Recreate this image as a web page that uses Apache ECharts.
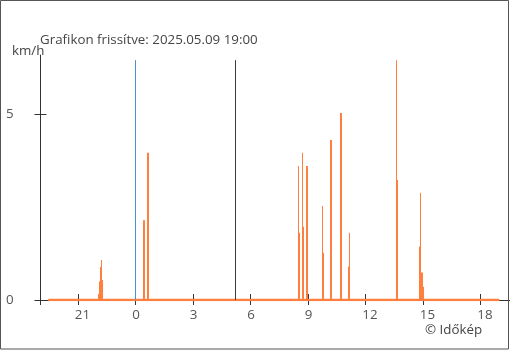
<!DOCTYPE html>
<html><head><meta charset="utf-8">
<script src="https://cdn.jsdelivr.net/npm/echarts@6/dist/echarts.min.js"></script>
<style>html,body{margin:0;padding:0;background:#fff}#c{width:510px;height:350px}</style>
</head><body><div id="c"></div>
<script>
// ---- data (hours relative to midnight of 2025.05.09) ----
const titleText = 'Grafikon frissítve: 2025.05.09 19:00';
const unitText = 'km/h';
const creditText = '© Időkép';
const xTickHours = [-3, 0, 3, 6, 9, 12, 15, 18];
const xTickLabels = ['21', '0', '3', '6', '9', '12', '15', '18'];
const yTickValues = [0, 5];
const xRange = [-4.956, 19.536];
const yRange = [0, 6.6];
const dataSpan = [-4.55, 18.98];
const midnightHour = 0;
const sunriseHour = 5.217;
const speedHours = [
  -1.930, -1.878, -1.826, -1.774, -1.721,
  0.417, 0.469, 0.626, 0.678,
  8.503, 8.555, 8.712, 8.764, 8.920, 8.972,
  9.755, 9.807, 10.172, 10.224, 10.694, 10.746,
  11.111, 11.163,
  13.615, 13.667,
  14.815, 14.867, 14.919, 14.971, 15.023
];
const speedValues = [
  0.16, 0.50, 0.89, 1.08, 0.54,
  2.15, 2.15, 3.97, 3.97,
  3.61, 1.81, 3.97, 1.97, 3.61, 3.61,
  2.53, 1.27, 4.31, 4.31, 5.04, 5.04,
  0.90, 1.81,
  6.46, 3.23,
  1.44, 2.89, 0.74, 0.74, 0.36
];

const FONT = '"Open Sans", "Noto Sans", sans-serif';
const FS = 13.33;
const ORANGE = '#ff7f3f';
const AXIS = '#333';
const TEXT = '#555';
const maxVal = Math.max(...speedValues);
const xTickValues = [xRange[0]].concat(xTickHours);
// labels are left-anchored ~3px before their tick (as in the original)
const PX_PER_HOUR = 19.17;
const labelShift = -3.2 / PX_PER_HOUR;
const xLabelValues = xTickHours.map(h => h + labelShift);

const chart = echarts.init(document.getElementById('c'), null, {renderer: 'canvas'});
const xBase = {
  type: 'value', min: xRange[0], max: xRange[1], position: 'bottom',
  splitLine: {show: false}
};
const yBase = {
  type: 'value', min: yRange[0], max: yRange[1], interval: 5, position: 'left',
  splitLine: {show: false}
};
chart.setOption({
  animation: false,
  backgroundColor: '#fff',
  textStyle: {fontFamily: FONT},
  grid: {left: 40.5, right: 0, top: 55, bottom: 50, containLabel: false},
  title: [
    {text: titleText, left: 40, top: 34, padding: 0,
     textStyle: {fontSize: FS, fontWeight: 'normal', color: '#444', fontFamily: FONT}},
    {text: unitText, left: 12, top: 45, padding: 0,
     textStyle: {fontSize: FS, fontWeight: 'normal', color: '#444', fontFamily: FONT}},
    {text: creditText, left: 425, top: 324, padding: 0,
     textStyle: {fontSize: FS, fontWeight: 'normal', color: '#444', fontFamily: FONT}}
  ],
  graphic: [{
    type: 'rect', silent: true, z: 100,
    shape: {x: 0.5, y: 0.5, width: 508, height: 348.5},
    style: {fill: 'none', stroke: '#555', lineWidth: 1}
  }],
  xAxis: [
    Object.assign({}, xBase, {
      axisLine: {show: true, onZero: false, lineStyle: {color: AXIS, width: 1}},
      axisTick: {show: true, inside: true, length: 6, customValues: xTickValues,
                 lineStyle: {color: AXIS}},
      axisLabel: {show: true, customValues: xLabelValues, margin: 9, fontSize: FS,
                  color: TEXT, fontFamily: FONT, align: 'left',
                  formatter: v => xTickLabels[xTickHours.indexOf(Math.round(v))]}
    }),
    Object.assign({}, xBase, {
      axisLine: {show: false, onZero: false},
      axisTick: {show: true, inside: false, length: 5, customValues: xTickValues,
                 lineStyle: {color: AXIS}},
      axisLabel: {show: false}
    })
  ],
  yAxis: [
    Object.assign({}, yBase, {
      axisLine: {show: true, onZero: false, lineStyle: {color: AXIS, width: 1}},
      axisTick: {show: true, inside: false, length: 6, customValues: yTickValues,
                 lineStyle: {color: AXIS}},
      axisLabel: {show: true, customValues: yTickValues, margin: 27, fontSize: FS,
                  color: TEXT, fontFamily: FONT}
    }),
    Object.assign({}, yBase, {
      axisLine: {show: false, onZero: false},
      axisTick: {show: true, inside: true, length: 6, customValues: yTickValues,
                 lineStyle: {color: AXIS}},
      axisLabel: {show: false}
    })
  ],
  series: [
    {
      type: 'line', xAxisIndex: 0, yAxisIndex: 0, z: 2,
      data: [[dataSpan[0], 0], [dataSpan[1], 0]],
      symbol: 'none', lineStyle: {color: ORANGE, width: 2.5}, silent: true,
      markLine: {
        silent: true, symbol: 'none', label: {show: false},
        data: [
          [{coord: [midnightHour, 0], lineStyle: {color: '#4a90cc', width: 1, type: 'solid'}},
           {coord: [midnightHour, maxVal]}],
          [{coord: [sunriseHour, 0], lineStyle: {color: '#3a3a3a', width: 1, type: 'solid'}},
           {coord: [sunriseHour, maxVal]}]
        ]
      }
    },
    {
      type: 'bar', xAxisIndex: 0, yAxisIndex: 0, z: 3,
      data: speedHours.map((h, i) => [h, speedValues[i]]),
      barWidth: 1, itemStyle: {color: ORANGE}, silent: true
    }
  ]
});
</script></body></html>
